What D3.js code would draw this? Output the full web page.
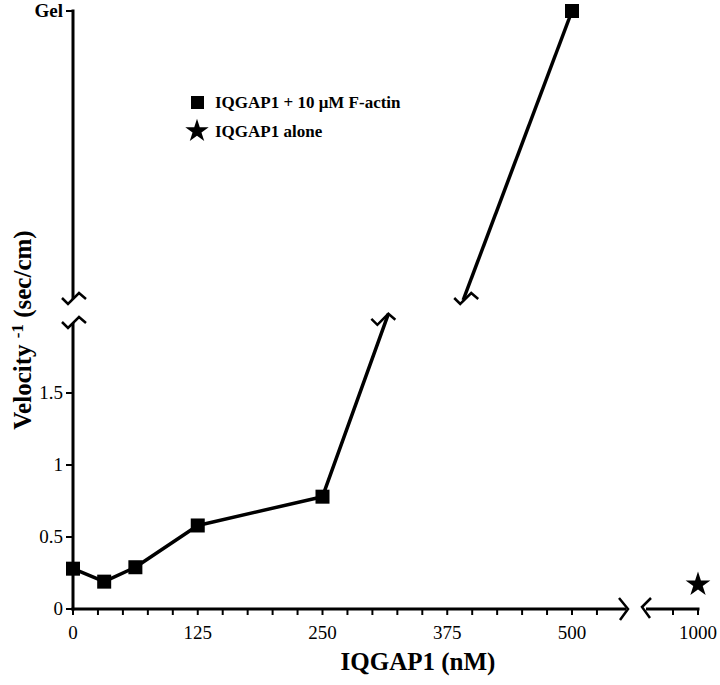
<!DOCTYPE html>
<html>
<head>
<meta charset="utf-8">
<script src="https://cdn.jsdelivr.net/npm/d3@7"></script>
<style>
  body { margin: 0; background: #fff; }
  svg { display: block; }
  text { font-family: "Liberation Serif", "DejaVu Serif", serif; fill: #000; }
</style>
</head>
<body>
<div id="chart"></div>
<script>
// IQGAP1 + 10 uM F-actin (nM, velocity^-1)
const concentrations = [0, 31.25, 62.5, 125, 250];
const velocities = [0.28, 0.19, 0.29, 0.58, 0.78];
// where the rising line leaves the lower panel / enters the upper panel
const lowerBreak = [316, 2.05];
const upperBreak = [391, 0];
// 500 nM gelled
const gelPoint = [500, 1];
// IQGAP1 alone
const aloneX = [1000];
const aloneY = [0.17];

const xTicks = [0, 125, 250, 375, 500];
const xMinor = d3.range(0, 526, 25);
const xFarTicks = [975, 1000];
const yTicks = [0, 0.5, 1, 1.5];

const W = 720, H = 685;

const svg = d3.select("#chart").append("svg")
    .attr("width", W)
    .attr("height", H);

const x = d3.scaleLinear().domain([0, 500]).range([73, 572]);
const xFar = d3.scaleLinear().domain([950, 1000]).range([648, 698]);
const yLow = d3.scaleLinear().domain([0, 2]).range([609, 321]);
const yHigh = d3.scaleLinear().domain([0, 1]).range([300, 11]);

const ink = "#000";

// zigzag break mark
const breakMark = (cx, cy) =>
    `M${cx - 12},${cy - 2} L${cx - 6},${cy + 4} L${cx + 5},${cy - 7} L${cx + 12},${cy - 1}`;

const axes = svg.append("g")
    .attr("stroke", ink)
    .attr("fill", "none")
    .attr("stroke-width", 3);

// y axis, lower and upper pieces
axes.append("line").attr("x1", x(0)).attr("x2", x(0))
    .attr("y1", yLow(0) + 1.5).attr("y2", 323);
axes.append("line").attr("x1", x(0)).attr("x2", x(0))
    .attr("y1", yHigh(1) - 1.5).attr("y2", 299);
axes.append("path").attr("d", breakMark(74, 324)).attr("stroke-width", 2.5);
axes.append("path").attr("d", breakMark(74, 300)).attr("stroke-width", 2.5);

// y ticks
yTicks.forEach(v => {
    axes.append("line").attr("x1", x(0) - 7).attr("x2", x(0))
        .attr("y1", yLow(v)).attr("y2", yLow(v)).attr("stroke-width", 2);
});
axes.append("line").attr("x1", x(0) - 7).attr("x2", x(0))
    .attr("y1", yHigh(1)).attr("y2", yHigh(1)).attr("stroke-width", 2);

svg.append("g").selectAll("text")
    .data(yTicks)
    .join("text")
    .attr("x", x(0) - 10)
    .attr("y", d => yLow(d) + 6)
    .attr("text-anchor", "end")
    .attr("font-size", 19)
    .text(d => d);

svg.append("text")
    .attr("x", x(0) - 10)
    .attr("y", yHigh(1) + 6)
    .attr("text-anchor", "end")
    .attr("font-size", 19)
    .attr("font-weight", "bold")
    .text("Gel");

// x axis
axes.append("line").attr("x1", x(0) - 1.5).attr("x2", 626)
    .attr("y1", yLow(0)).attr("y2", yLow(0));
axes.append("path").attr("d", "M619,598 L628,609 L620,620").attr("stroke-width", 2.5);
axes.append("path").attr("d", "M651,598 L642,607 L650,618").attr("stroke-width", 2.5);
axes.append("line").attr("x1", 646).attr("x2", xFar(1000) + 1.5)
    .attr("y1", yLow(0)).attr("y2", yLow(0));

xMinor.forEach(v => {
    axes.append("line").attr("x1", x(v)).attr("x2", x(v))
        .attr("y1", yLow(0)).attr("y2", yLow(0) + 6).attr("stroke-width", 2);
});
xFarTicks.forEach(v => {
    axes.append("line").attr("x1", xFar(v)).attr("x2", xFar(v))
        .attr("y1", yLow(0)).attr("y2", yLow(0) + 6).attr("stroke-width", 2);
});

svg.append("g").selectAll("text")
    .data(xTicks)
    .join("text")
    .attr("x", d => x(d))
    .attr("y", 639)
    .attr("text-anchor", "middle")
    .attr("font-size", 19)
    .text(d => d);
svg.append("text")
    .attr("x", xFar(1000))
    .attr("y", 639)
    .attr("text-anchor", "middle")
    .attr("font-size", 19)
    .text("1000");

// axis titles
svg.append("text")
    .attr("x", 418)
    .attr("y", 670)
    .attr("text-anchor", "middle")
    .attr("font-size", 25)
    .attr("font-weight", "bold")
    .text("IQGAP1 (nM)");

const yTitle = svg.append("text")
    .attr("transform", "translate(31,330) rotate(-90)")
    .attr("text-anchor", "middle")
    .attr("font-size", 25)
    .attr("font-weight", "bold");
yTitle.append("tspan").text("Velocity ");
yTitle.append("tspan").attr("font-size", 17).attr("dy", -8).text("-1");
yTitle.append("tspan").attr("dy", 8).text(" (sec/cm)");

// data lines
const lowerPts = concentrations.map((c, i) => [x(c), yLow(velocities[i])]);
lowerPts.push([x(lowerBreak[0]), yLow(lowerBreak[1])]);

svg.append("path")
    .attr("d", d3.line()(lowerPts))
    .attr("fill", "none")
    .attr("stroke", ink)
    .attr("stroke-width", 3.5)
    .attr("stroke-linejoin", "round");

const lb = [x(lowerBreak[0]), yLow(lowerBreak[1])];
svg.append("path")
    .attr("d", breakMark(lb[0] - 5, lb[1] + 7))
    .attr("fill", "none").attr("stroke", ink).attr("stroke-width", 2.5);

const ub = [x(upperBreak[0]), yHigh(upperBreak[1])];
svg.append("path")
    .attr("d", d3.line()([ub, [x(gelPoint[0]), yHigh(gelPoint[1])]]))
    .attr("fill", "none")
    .attr("stroke", ink)
    .attr("stroke-width", 3.5);
svg.append("path")
    .attr("d", breakMark(ub[0] + 3, ub[1]))
    .attr("fill", "none").attr("stroke", ink).attr("stroke-width", 2.5);

// square markers
const sq = 14;
const squares = lowerPts.slice(0, concentrations.length)
    .concat([[x(gelPoint[0]), yHigh(gelPoint[1])]]);
svg.append("g").selectAll("rect")
    .data(squares)
    .join("rect")
    .attr("x", d => d[0] - sq / 2)
    .attr("y", d => d[1] - sq / 2)
    .attr("width", sq)
    .attr("height", sq)
    .attr("fill", ink);

// star marker
const star = d3.symbol().type(d3.symbolStar).size(190);
svg.append("g").selectAll("path")
    .data(aloneX.map((c, i) => [xFar(c), yLow(aloneY[i])]))
    .join("path")
    .attr("transform", d => `translate(${d[0]},${d[1]})`)
    .attr("d", star)
    .attr("fill", ink);

// legend
const legend = svg.append("g");
legend.append("rect")
    .attr("x", 191).attr("y", 96).attr("width", 13).attr("height", 13)
    .attr("fill", ink);
legend.append("text")
    .attr("x", 215).attr("y", 108)
    .attr("font-size", 17).attr("font-weight", "bold")
    .text("IQGAP1 + 10 μM F-actin");
legend.append("path")
    .attr("transform", "translate(197,131)")
    .attr("d", d3.symbol().type(d3.symbolStar).size(170))
    .attr("fill", ink);
legend.append("text")
    .attr("x", 215).attr("y", 137)
    .attr("font-size", 17).attr("font-weight", "bold")
    .text("IQGAP1 alone");
</script>
</body>
</html>
